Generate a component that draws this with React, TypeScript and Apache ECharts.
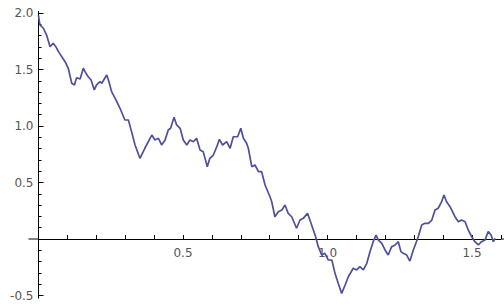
import React, { useEffect, useRef } from "react";
import * as echarts from "echarts";

// Path points: time (x) and value (y)
const xs: number[] = [
  0, 0.002, 0.005, 0.017, 0.028, 0.04, 0.051, 0.06, 0.069, 0.092, 0.103, 0.115, 0.124, 0.132, 0.144,
  0.155, 0.161, 0.172, 0.182, 0.193, 0.201, 0.213, 0.219, 0.236, 0.242, 0.253, 0.271, 0.282, 0.299,
  0.311, 0.322, 0.334, 0.351, 0.368, 0.392, 0.403, 0.415, 0.426, 0.438, 0.449, 0.457, 0.469, 0.478,
  0.49, 0.501, 0.513, 0.524, 0.536, 0.547, 0.559, 0.57, 0.584, 0.593, 0.605, 0.617, 0.626, 0.637,
  0.651, 0.663, 0.674, 0.689, 0.7, 0.709, 0.72, 0.726, 0.738, 0.749, 0.761, 0.772, 0.784, 0.801,
  0.807, 0.818, 0.83, 0.842, 0.853, 0.864, 0.876, 0.893, 0.905, 0.916, 0.931, 0.939, 0.951, 0.959,
  0.968, 0.98, 0.991, 1.003, 1.015, 1.026, 1.037, 1.049, 1.061, 1.072, 1.089, 1.101, 1.112, 1.124,
  1.136, 1.147, 1.158, 1.168, 1.176, 1.188, 1.199, 1.21, 1.222, 1.234, 1.245, 1.254, 1.262, 1.274,
  1.285, 1.297, 1.314, 1.326, 1.337, 1.349, 1.361, 1.372, 1.383, 1.395, 1.403, 1.412, 1.424, 1.441,
  1.453, 1.464, 1.476, 1.487, 1.499, 1.51, 1.522, 1.533, 1.545, 1.556, 1.566, 1.574, 1.58,
];
const ys: number[] = [
  1.98, 1.938, 1.894, 1.865, 1.805, 1.702, 1.732, 1.702, 1.658, 1.569, 1.511, 1.378, 1.363, 1.427, 1.416,
  1.511, 1.481, 1.436, 1.407, 1.319, 1.363, 1.392, 1.378, 1.451, 1.407, 1.304, 1.215, 1.157, 1.053,
  1.053, 0.95, 0.832, 0.714, 0.803, 0.92, 0.876, 0.891, 0.832, 0.876, 0.965, 0.98, 1.077, 1.009,
  0.98, 0.876, 0.832, 0.876, 0.861, 0.891, 0.788, 0.773, 0.64, 0.714, 0.743, 0.817, 0.882, 0.832,
  0.861, 0.803, 0.905, 0.905, 0.98, 0.891, 0.847, 0.803, 0.64, 0.655, 0.596, 0.596, 0.478, 0.374,
  0.33, 0.197, 0.242, 0.257, 0.301, 0.227, 0.197, 0.095, 0.168, 0.183, 0.227, 0.168, 0.08, 0.02,
  -0.068, -0.142, -0.127, -0.186, -0.186, -0.304, -0.392, -0.481, -0.407, -0.334, -0.259, -0.274, -0.245, -0.274,
  -0.215, -0.112, -0.024, 0.035, -0.009, -0.038, -0.097, -0.142, -0.068, -0.053, -0.024, -0.112, -0.127, -0.142,
  -0.195, -0.097, 0.02, 0.124, 0.139, 0.139, 0.168, 0.257, 0.272, 0.33, 0.389, 0.33, 0.286, 0.197,
  0.153, 0.168, 0.153, 0.08, 0.02, -0.024, -0.053, -0.024, -0.009, 0.065, 0.035, -0.024, 0.006,
];

const xTickLabels: string[] = ["0.5", "1.0", "1.5"];
const yTickLabels: string[] = ["-0.5", "0.5", "1.0", "1.5", "2.0"];

const W = 504;
const H = 308;
const Y_MIN = -0.5;
const Y_MAX = 2.0;
const GRID_TOP = 13;
const GRID_BOTTOM = 12.5;

export default function App() {
  const ref = useRef<HTMLDivElement>(null);
  useEffect(() => {
    if (!ref.current) return;
    const chart = echarts.init(ref.current, null, { renderer: "svg", width: W, height: H });
    const font = { fontFamily: "DejaVu Sans", fontSize: 12, color: "#555555" };
    const data = xs.map((x, i) => [x, ys[i]]);
    const gridH = H - GRID_TOP - GRID_BOTTOM;
    // raise the x axis from the grid bottom to the y = 0 line
    const zeroOffset = -(gridH * (0 - Y_MIN)) / (Y_MAX - Y_MIN);
    chart.setOption({
      animation: false,
      backgroundColor: "#ffffff",
      grid: { left: 38.5, right: 3.1, top: GRID_TOP, bottom: GRID_BOTTOM, containLabel: false, outerBoundsMode: "none" },
      xAxis: {
        type: "value",
        position: "bottom",
        offset: zeroOffset,
        min: 0,
        max: 1.6,
        interval: 0.1,
        axisLine: { onZero: false, lineStyle: { color: "#000", width: 1 } },
        axisTick: { show: true, inside: true, length: 4, lineStyle: { color: "#000" } },
        splitLine: { show: false },
        axisLabel: {
          ...font,
          margin: 8,
          interval: 0,
          hideOverlap: false,
          formatter: (v: number) => {
            const r = Math.round(v * 10);
            if (r === 0 || r % 5 !== 0) return "";
            const s = (r / 10).toFixed(1);
            return xTickLabels.includes(s) ? s : "";
          },
        },
      },
      yAxis: {
        type: "value",
        min: Y_MIN,
        max: Y_MAX,
        interval: 0.5,
        axisLine: { show: true, onZero: false, lineStyle: { color: "#000", width: 1 } },
        axisTick: { show: true, inside: true, length: 5, lineStyle: { color: "#000" } },
        minorTick: { show: true, splitNumber: 5, length: 3, lineStyle: { color: "#000" } },
        splitLine: { show: false },
        axisLabel: {
          ...font,
          margin: 5,
          align: "right",
          formatter: (v: number) => {
            if (Math.abs(v) < 1e-9) return "";
            const s = v.toFixed(1);
            return yTickLabels.includes(s) ? s : "";
          },
        },
      },
      series: [
        {
          type: "line",
          data,
          showSymbol: false,
          symbol: "none",
          lineStyle: { color: "#4f4f9c", width: 1.7 },
          z: 5,
        },
      ],
    });
    // small axis-line extensions beyond the tick range (Mathematica-style axes)
    const o = chart.convertToPixel({ gridIndex: 0 }, [0, 0]) as number[];
    const top = chart.convertToPixel({ gridIndex: 0 }, [0, Y_MAX]) as number[];
    const bot = chart.convertToPixel({ gridIndex: 0 }, [0, Y_MIN]) as number[];
    const right = chart.convertToPixel({ gridIndex: 0 }, [1.6, 0]) as number[];
    const ls = { stroke: "#000", lineWidth: 1 };
    chart.setOption({
      graphic: [
        { type: "line", shape: { x1: o[0] - 10, y1: o[1], x2: o[0], y2: o[1] }, style: ls, silent: true },
        { type: "line", shape: { x1: right[0], y1: o[1], x2: W, y2: o[1] }, style: ls, silent: true },
        { type: "line", shape: { x1: top[0], y1: top[1] - 2, x2: top[0], y2: top[1] }, style: ls, silent: true },
        { type: "line", shape: { x1: bot[0], y1: bot[1], x2: bot[0], y2: bot[1] + 3 }, style: ls, silent: true },
      ],
    });
    return () => chart.dispose();
  }, []);
  return (
    <div
      ref={ref}
      style={{ position: "fixed", left: 0, top: 0, width: W, height: H, background: "#fff" }}
    />
  );
}
